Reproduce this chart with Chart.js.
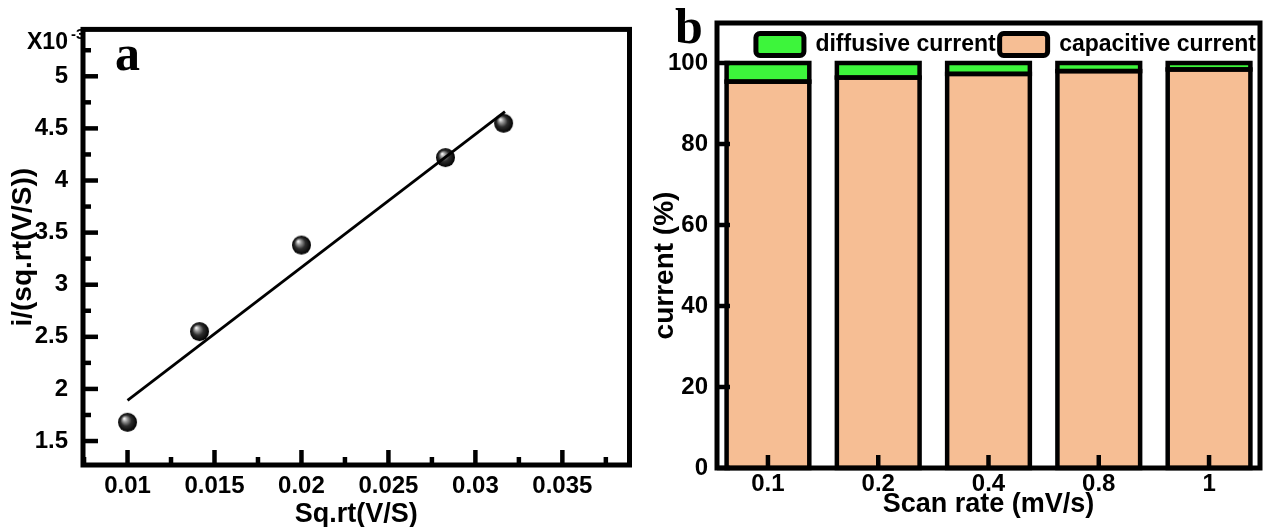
<!DOCTYPE html>
<html>
<head>
<meta charset="utf-8">
<script src="https://cdn.jsdelivr.net/npm/chart.js@4.4.1/dist/chart.umd.min.js"></script>
<style>
  html, body { margin: 0; padding: 0; background: #fff; }
  #wrap { position: relative; width: 1267px; height: 527px; }
  #chartA { position: absolute; left: 0; top: 0; }
  #chartB { position: absolute; left: 640px; top: 0; }
</style>
</head>
<body>
<div id="wrap">
  <canvas id="chartA" width="640" height="527"></canvas>
  <canvas id="chartB" width="627" height="527"></canvas>
</div>
<script>
// panel a: i/sqrt(v) against sqrt(v), y values in units of 1e-3
const sqrtScan = [0.01, 0.01414, 0.02, 0.02828, 0.03162];
const peakNorm = [1.68, 2.55, 3.38, 4.22, 4.55];
// fitted straight line, end points
const fitX = [0.01, 0.0317];
const fitY = [1.89, 4.66];

// panel b: current contributions (%)
const scanRates = ["0.1", "0.2", "0.4", "0.8", "1"];
const capacitive = [95.4, 96.4, 97.3, 98.0, 98.4];
const diffusive = [4.6, 3.6, 2.7, 2.0, 1.6];

Chart.defaults.font.family = "'Liberation Sans', Arial, sans-serif";
Chart.defaults.font.weight = "bold";
Chart.defaults.color = "#000";

// thick black outline round every bar segment (taken from the bar elements)
const barOutline = {
  id: "barOutline",
  afterDatasetsDraw(chart, args, opts) {
    if (!opts.width) return;
    const ctx = chart.ctx;
    ctx.save();
    ctx.strokeStyle = "#000";
    ctx.lineWidth = opts.width;
    chart.data.datasets.forEach((ds, di) => {
      chart.getDatasetMeta(di).data.forEach((bar) => {
        const { x, y, base, width } = bar.getProps(["x", "y", "base", "width"], true);
        ctx.strokeRect(x - width / 2, Math.min(y, base), width, Math.abs(base - y));
      });
    });
    ctx.restore();
  }
};

// black frame round the plot plus inward tick marks
const frameTicks = {
  id: "frameTicks",
  afterDatasetsDraw(chart, args, opts) {
    const { ctx, chartArea: area, scales } = chart;
    const xs = scales.x, ys = scales.y;
    const top = area.top - (opts.extraTop || 0);
    ctx.save();
    ctx.strokeStyle = "#000";
    ctx.lineWidth = opts.tickWidth;
    const hLine = (x1, x2, y) => { ctx.beginPath(); ctx.moveTo(x1, y); ctx.lineTo(x2, y); ctx.stroke(); };
    const vLine = (x, y1, y2) => { ctx.beginPath(); ctx.moveTo(x, y1); ctx.lineTo(x, y2); ctx.stroke(); };

    ys.ticks.forEach((t) => hLine(area.left, area.left + opts.majorLen, ys.getPixelForValue(t.value)));
    xs.ticks.forEach((t) => vLine(xs.getPixelForValue(t.value), area.bottom, area.bottom - opts.majorLen));

    if (opts.minorY) {
      for (let v = ys.ticks[0].value - opts.minorY; v < ys.max; v += 2 * opts.minorY) {
        if (v > ys.min) hLine(area.left, area.left + opts.minorLen, ys.getPixelForValue(v));
      }
    }
    if (opts.minorX) {
      for (let v = xs.ticks[0].value - opts.minorX; v < xs.max; v += 2 * opts.minorX) {
        if (v > xs.min) vLine(xs.getPixelForValue(v), area.bottom, area.bottom - opts.minorLen);
      }
    }

    ctx.lineWidth = opts.frameWidth;
    ctx.strokeRect(area.left, top, area.right - area.left, area.bottom - top);
    ctx.restore();
  }
};

// panel letters and the axis multiplier
const panelText = {
  id: "panelText",
  afterDraw(chart, args, opts) {
    const { ctx, chartArea: area } = chart;
    ctx.save();
    ctx.fillStyle = "#000";
    ctx.textAlign = "left";
    ctx.textBaseline = "alphabetic";
    (opts.items || []).forEach((it) => {
      ctx.font = it.font;
      ctx.fillText(it.text, area.left + it.dx, area.top + it.dy);
    });
    ctx.restore();
  }
};

function makeSphere(r) {
  const c = document.createElement("canvas");
  c.width = c.height = 2 * r + 2;
  const g = c.getContext("2d");
  const cx = r + 1, cy = r + 1;
  const grad = g.createRadialGradient(cx - r * 0.35, cy - r * 0.4, r * 0.05, cx, cy, r);
  grad.addColorStop(0, "#f2f2f2");
  grad.addColorStop(0.22, "#9a9a9a");
  grad.addColorStop(0.55, "#2e2e2e");
  grad.addColorStop(1, "#000");
  g.fillStyle = grad;
  g.beginPath();
  g.arc(cx, cy, r, 0, Math.PI * 2);
  g.fill();
  return c;
}

new Chart(document.getElementById("chartA"), {
  type: "scatter",
  data: {
    datasets: [
      {
        type: "line",
        data: fitX.map((x, i) => ({ x: x, y: fitY[i] })),
        borderColor: "#000",
        borderWidth: 2.8,
        pointRadius: 0,
        order: 0
      },
      {
        data: sqrtScan.map((x, i) => ({ x: x, y: peakNorm[i] })),
        pointStyle: makeSphere(9.5),
        pointRadius: 9.5,
        order: 1
      }
    ]
  },
  options: {
    responsive: false,
    animation: false,
    layout: { padding: { left: 0, top: 20, right: 4, bottom: 0 } },
    plugins: {
      legend: { display: false },
      tooltip: { enabled: false },
      frameTicks: { tickWidth: 4.5, majorLen: 15, minorLen: 8, minorX: 0.0025, minorY: 0.25, frameWidth: 5 },
      panelText: {
        items: [
          { text: "a", font: "bold 50px 'Liberation Serif', serif", dx: 32, dy: 41 },
          { text: "X10", font: "bold 23px 'Liberation Sans', Arial", dx: -56, dy: 20 },
          { text: "-3", font: "bold 15px 'Liberation Sans', Arial", dx: -12, dy: 10 }
        ]
      }
    },
    scales: {
      x: {
        type: "linear",
        min: 0.00744,
        max: 0.03886,
        grid: { display: false, drawTicks: false },
        border: { display: false },
        ticks: {
          stepSize: 0.005,
          includeBounds: false,
          padding: 7,
          maxRotation: 0,
          font: { size: 24 },
          callback: (v) => String(parseFloat(v.toFixed(4)))
        },
        title: { display: true, text: "Sq.rt(V/S)", font: { size: 27, lineHeight: 0.9 }, padding: { top: 0, bottom: 0 } },
        afterFit: (s) => { s.height = 62; }
      },
      y: {
        min: 1.27,
        max: 5.45,
        grid: { display: false, drawTicks: false },
        border: { display: false },
        ticks: {
          stepSize: 0.5,
          includeBounds: false,
          padding: 15,
          font: { size: 24 },
          callback: (v) => String(parseFloat(v.toFixed(2)))
        },
        title: { display: true, text: "i/(sq.rt(V/S))", font: { size: 28, lineHeight: 1 }, padding: { top: 9, bottom: 0 } },
        afterFit: (s) => { s.width = 83; }
      }
    }
  },
  plugins: [frameTicks, panelText]
});

new Chart(document.getElementById("chartB"), {
  type: "bar",
  data: {
    datasets: [
      {
        label: "capacitive current",
        data: capacitive.map((v, i) => ({ x: i, y: v })),
        backgroundColor: "#F6BE94",
        borderWidth: 0,
        barPercentage: 0.75,
        categoryPercentage: 1
      },
      {
        label: "diffusive current",
        data: diffusive.map((v, i) => ({ x: i, y: v })),
        backgroundColor: "#3DF53B",
        borderWidth: 0,
        barPercentage: 0.75,
        categoryPercentage: 1
      }
    ]
  },
  options: {
    responsive: false,
    animation: false,
    layout: { padding: { left: 0, top: 29, right: 7, bottom: 0 } },
    plugins: {
      tooltip: { enabled: false },
      legend: {
        position: "top",
        align: "end",
        maxHeight: 34,
        labels: {
          boxWidth: 48,
          boxHeight: 22,
          padding: 4,
          font: { size: 23 },
          color: "#000",
          generateLabels: (chart) => chart.data.datasets.map((ds, i) => ({
            text: ds.label,
            fillStyle: ds.backgroundColor,
            strokeStyle: "#000",
            lineWidth: 5,
            borderRadius: 4,
            datasetIndex: i,
            hidden: false
          })).reverse()
        }
      },
      barOutline: { width: 4.5 },
      frameTicks: { tickWidth: 4.5, majorLen: 13, frameWidth: 5, extraTop: 40 },
      panelText: {
        items: [{ text: "b", font: "bold 50px 'Liberation Serif', serif", dx: -42, dy: -20 }]
      }
    },
    scales: {
      x: {
        type: "linear",
        min: -0.462,
        max: 4.462,
        offset: false,
        stacked: true,
        grid: { display: false, drawTicks: false },
        border: { display: false },
        ticks: {
          stepSize: 1,
          includeBounds: false,
          autoSkip: false,
          padding: 2,
          maxRotation: 0,
          font: { size: 24 },
          callback: (v) => (scanRates[v] !== undefined ? scanRates[v] : "")
        },
        title: { display: true, text: "Scan rate (mV/s)", font: { size: 27, lineHeight: 1 }, padding: { top: 0, bottom: 8.5 } },
        afterFit: (s) => { s.height = 59; }
      },
      y: {
        min: 0,
        max: 100,
        stacked: true,
        grid: { display: false, drawTicks: false },
        border: { display: false },
        ticks: { stepSize: 20, padding: 9, font: { size: 24 } },
        title: { display: true, text: "current (%)", font: { size: 28, lineHeight: 1 }, padding: { top: 11, bottom: 0 } },
        afterFit: (s) => { s.width = 77; }
      }
    }
  },
  plugins: [barOutline, frameTicks, panelText]
});
</script>
</body>
</html>
